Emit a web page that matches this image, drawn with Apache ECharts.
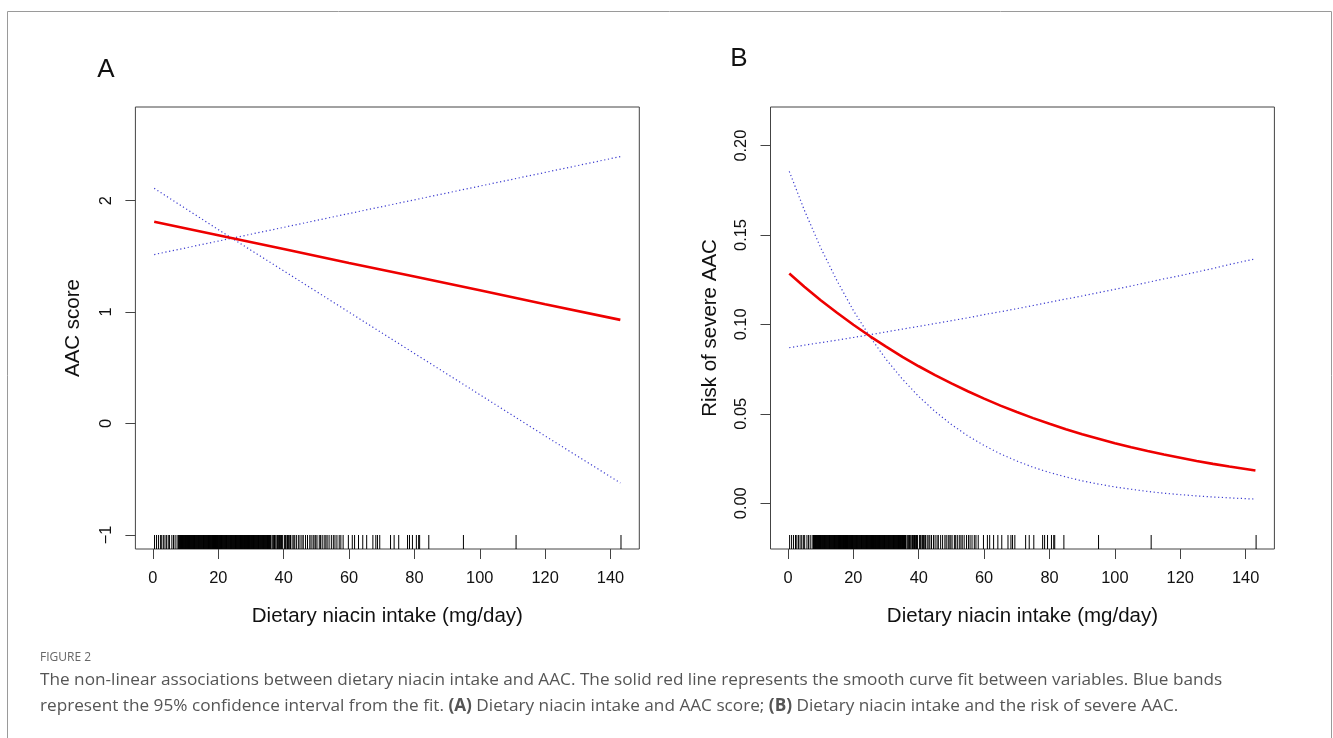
<!DOCTYPE html>
<html>
<head>
<meta charset="utf-8">
<script src="https://cdn.jsdelivr.net/npm/echarts@6/dist/echarts.min.js"></script>
<style>
html,body{margin:0;padding:0;background:#fff;}
#c{width:1333px;height:738px;}
</style>
</head>
<body>
<div id="c"></div>
<script>
// ---- Data ----
const xTicks = [0, 20, 40, 60, 80, 100, 120, 140];
const yTicksA = [-1, 0, 1, 2];
const yTicksB = [0, 0.05, 0.10, 0.15, 0.20];

// Panel A: AAC score
const xA = [0.4, 20, 40, 60, 80, 100, 120, 143];
const fitA = [1.81, 1.69, 1.565, 1.44, 1.32, 1.195, 1.07, 0.93];
const ciA1 = [1.516, 1.637, 1.76, 1.884, 2.007, 2.13, 2.253, 2.395];
const ciA2 = [2.11, 1.74, 1.37, 0.999, 0.629, 0.259, -0.112, -0.533];

// Panel B: risk of severe AAC
const xB = [0.4, 5, 10, 15, 20, 25, 30, 35, 40, 45, 50, 55, 60, 65, 70, 75, 80, 85, 90, 95, 100, 105, 110, 115, 120, 125, 130, 135, 143];
const fitB = [0.1285, 0.1211, 0.1135, 0.1065, 0.0998, 0.0935, 0.0876, 0.0819, 0.0766, 0.0716, 0.0670, 0.0626, 0.0585, 0.0546, 0.0510,
  0.0476, 0.0444, 0.0414, 0.0386, 0.0361, 0.0336, 0.0313, 0.0292, 0.0272, 0.0254, 0.0236, 0.0220, 0.0205, 0.0183];
const ciB1 = [0.0870, 0.0884, 0.0898, 0.0912, 0.0927, 0.0942, 0.0958, 0.0974, 0.0989, 0.1005, 0.1021, 0.1037, 0.1055, 0.1071, 0.1088,
  0.1106, 0.1124, 0.1142, 0.1159, 0.1178, 0.1196, 0.1215, 0.1235, 0.1255, 0.1273, 0.1293, 0.1313, 0.1335, 0.1367];
const ciB2 = [0.1856, 0.1639, 0.1429, 0.1244, 0.1078, 0.0933, 0.0805, 0.0694, 0.0597, 0.0513, 0.0440, 0.0377, 0.0323, 0.0276, 0.0236,
  0.0201, 0.0172, 0.0147, 0.0125, 0.0107, 0.0091, 0.0078, 0.0066, 0.0056, 0.0048, 0.0041, 0.0035, 0.0030, 0.0023];

// Rug: observed niacin intakes (mg/day)
const rugX = [0.5, 1.1, 1.7, 2.3, 2.7, 3.2, 3.7, 4.2, 4.7, 5.1, 5.8, 6.3, 6.8, 7.4,
  7.8, 8.1, 8.4, 8.6, 8.9, 9.2, 9.5, 9.8, 10.0, 10.3, 10.6, 10.9, 11.2, 11.4, 11.7, 12.0, 12.3, 12.6, 12.8,
  13.1, 13.4, 13.7, 14.0, 14.2, 14.5, 14.8, 15.1, 15.4, 15.6, 15.9, 16.2, 16.5, 16.8, 17.0, 17.3, 17.6,
  17.9, 18.2, 18.4, 18.7, 19.0, 19.3, 19.6, 19.8, 20.1, 20.4, 20.7, 21.0, 21.2, 21.5, 21.8, 22.1, 22.4,
  22.6, 22.9, 23.2, 23.5, 23.8, 24.0, 24.3, 24.6, 24.9, 25.2, 25.4, 25.7, 26.0, 26.3, 26.6, 26.8, 27.1,
  27.4, 27.7, 28.0, 28.2, 28.5, 28.8, 29.1, 29.4, 29.6, 29.9, 30.2, 30.5, 30.8, 31.0, 31.3, 31.6, 31.9,
  32.2, 32.4, 32.7, 33.0, 33.3, 33.6, 33.8, 34.1, 34.4, 34.7, 35.0, 35.2, 35.5, 35.8, 36.1, 36.5, 37.0,
  37.4, 38.1, 38.5, 38.9, 39.3, 39.6, 40.2, 40.6, 41.2, 41.6, 42.1,
  7.95, 8.25, 8.5, 8.75, 9.05, 9.35, 9.65, 9.9, 10.15, 10.45, 10.75, 11.05, 11.3, 11.55, 11.85, 12.15,
  12.45, 12.7, 12.95, 13.25, 13.55, 13.85, 14.1, 14.35, 14.65, 14.95, 15.25, 15.5, 15.75, 16.05, 16.35,
  16.65, 16.9, 17.15, 17.45, 17.75, 18.05, 18.3, 18.55, 18.85, 19.15, 19.45, 19.7, 19.95, 20.25, 20.55,
  20.85, 21.1, 21.35, 21.65, 21.95, 22.25, 22.5, 22.75, 23.05, 23.35, 23.65, 23.9, 24.15, 24.45, 24.75,
  25.05, 25.3, 25.55, 25.85, 26.15, 26.45, 26.7, 26.95, 27.25, 27.55, 27.85, 28.1, 28.35, 28.65, 28.95,
  29.25, 29.5, 29.75, 30.05, 30.35, 30.65, 30.9, 31.15, 31.45, 31.75, 32.05, 32.3, 32.55, 32.85, 33.15,
  33.45, 33.7, 33.95, 34.25, 34.55, 34.85, 35.1, 35.35, 35.65, 35.95, 36.8, 37.2, 37.7, 38.3, 38.7,
  39.1, 39.45, 40.4, 41.0, 41.4, 41.9,
  42.6, 43.1, 43.4, 43.9, 44.5, 45.0, 45.6, 46.0, 46.7, 47.3, 48.0, 48.4, 49.0, 49.3, 49.8, 50.2, 50.9,
  51.3, 51.8, 52.4, 52.9, 53.3, 53.9, 54.6, 55.2, 55.7, 56.3, 57.0, 57.5, 58.2, 59.8, 61.0, 61.7, 62.9,
  64.2, 65.4, 67.3, 68.2, 68.7, 69.4, 72.7, 73.8, 75.2, 77.9, 78.5, 79.4, 80.6, 81.3, 81.6, 84.4, 95.0,
  111.1, 143.2];

// ---- Layout ----
const FONT = '"Liberation Sans", Arial, Helvetica, sans-serif';
const AX = '#444';
const X_MIN = -5.35, X_MAX = 148.8;
const A_MIN = -1.126, A_MAX = 2.84;
const B_MIN = -0.0256, B_MAX = 0.2216;

function pairs(xs, ys) { return xs.map((x, i) => [x, ys[i]]); }

function xAxisCfg(gi, name) {
  return {
    gridIndex: gi, type: 'value', min: X_MIN, max: X_MAX, position: 'bottom',
    axisLine: { show: false, onZero: false }, splitLine: { show: false },
    axisTick: { show: true, length: 10, customValues: xTicks, lineStyle: { color: AX, width: 1 } },
    axisLabel: { customValues: xTicks, margin: 21, fontSize: 16.4, color: '#111', fontFamily: FONT },
    name: name, nameLocation: 'middle', nameGap: 57,
    nameTextStyle: { fontSize: 20.5, color: '#111', fontFamily: FONT }
  };
}
function yAxisCfg(gi, mn, mx, ticks, fmt, name, gap) {
  return {
    gridIndex: gi, type: 'value', min: mn, max: mx, position: 'left',
    axisLine: { show: false, onZero: false }, splitLine: { show: false },
    axisTick: { show: true, length: 10, customValues: ticks, lineStyle: { color: AX, width: 1 } },
    axisLabel: { customValues: ticks, rotate: 90, margin: 21, fontSize: 16.4, color: '#111', fontFamily: FONT, formatter: fmt },
    name: name, nameLocation: 'middle', nameGap: gap, nameRotate: 90,
    nameTextStyle: { fontSize: 20.5, color: '#111', fontFamily: FONT }
  };
}
function fitSeries(xi, xs, ys) {
  return { type: 'line', xAxisIndex: xi, yAxisIndex: xi, data: pairs(xs, ys), showSymbol: false, symbol: 'none',
    smooth: false, lineStyle: { color: '#ee0000', width: 2.6 }, z: 5 };
}
function ciSeries(xi, xs, ys) {
  return { type: 'line', xAxisIndex: xi, yAxisIndex: xi, data: pairs(xs, ys), showSymbol: false, symbol: 'none',
    smooth: false, lineStyle: { color: '#3b3bcf', width: 1.2, type: [1.2, 2.6] }, z: 4 };
}
function rugSeries(xi, yMin) {
  return {
    type: 'custom', xAxisIndex: xi, yAxisIndex: xi,
    data: rugX.map(v => [v, yMin]), encode: { x: 0, y: 1 }, clip: false,
    renderItem: function (params, api) {
      const p = api.coord([api.value(0), api.value(1)]);
      return { type: 'line', shape: { x1: p[0], y1: p[1], x2: p[0], y2: p[1] - 14 },
        style: { stroke: '#000', lineWidth: 1 } };
    }, z: 3
  };
}

const captionFont = '"Open Sans", "Noto Sans", sans-serif';
const chart = echarts.init(document.getElementById('c'), null, { renderer: 'canvas' });
chart.setOption({
  animation: false,
  backgroundColor: '#fff',
  grid: [
    { left: 135.4, top: 107, width: 503.9, height: 442, show: true, borderColor: AX, borderWidth: 1, backgroundColor: 'transparent' },
    { left: 770.5, top: 107, width: 503.9, height: 442, show: true, borderColor: AX, borderWidth: 1, backgroundColor: 'transparent' }
  ],
  xAxis: [
    xAxisCfg(0, 'Dietary niacin intake (mg/day)'),
    xAxisCfg(1, 'Dietary niacin intake (mg/day)')
  ],
  yAxis: [
    yAxisCfg(0, A_MIN, A_MAX, yTicksA, v => (v < 0 ? '\u2212' + Math.abs(v) : String(v)), 'AAC score', 52),
    yAxisCfg(1, B_MIN, B_MAX, yTicksB, v => v.toFixed(2), 'Risk of severe AAC', 50)
  ],
  series: [
    rugSeries(0, A_MIN), ciSeries(0, xA, ciA1), ciSeries(0, xA, ciA2), fitSeries(0, xA, fitA),
    rugSeries(1, B_MIN), ciSeries(1, xB, ciB1), ciSeries(1, xB, ciB2), fitSeries(1, xB, fitB)
  ],
  graphic: [
    { type: 'rect', shape: { x: 7.5, y: 11.5, width: 1324, height: 760 }, style: { fill: 'none', stroke: '#9a9a9a', lineWidth: 1 }, silent: true },
    { type: 'text', x: 106, y: 70, style: { text: 'A', fontSize: 26, fontFamily: FONT, fill: '#111', align: 'center', verticalAlign: 'middle' } },
    { type: 'text', x: 739, y: 59, style: { text: 'B', fontSize: 26, fontFamily: FONT, fill: '#111', align: 'center', verticalAlign: 'middle' } },
    { type: 'text', x: 40, y: 658, style: { text: 'FIGURE 2', fontSize: 12, fontFamily: captionFont, fill: '#666', verticalAlign: 'middle' } },
    { type: 'text', x: 40, y: 680, style: {
      text: 'The non-linear associations between dietary niacin intake and AAC. The solid red line represents the smooth curve fit between variables. Blue bands',
      fontSize: 17.2, fontFamily: captionFont, fill: '#555', verticalAlign: 'middle' } },
    { type: 'text', x: 40, y: 706, style: {
      text: 'represent the 95% confidence interval from the fit. {b|(A)} Dietary niacin intake and AAC score; {b|(B)} Dietary niacin intake and the risk of severe AAC.',
      fontSize: 17.2, fontFamily: captionFont, fill: '#555', verticalAlign: 'middle',
      rich: { b: { fontWeight: 'bold', fontSize: 17.2, fontFamily: captionFont, fill: '#555' } } } }
  ]
});
</script>
</body>
</html>
